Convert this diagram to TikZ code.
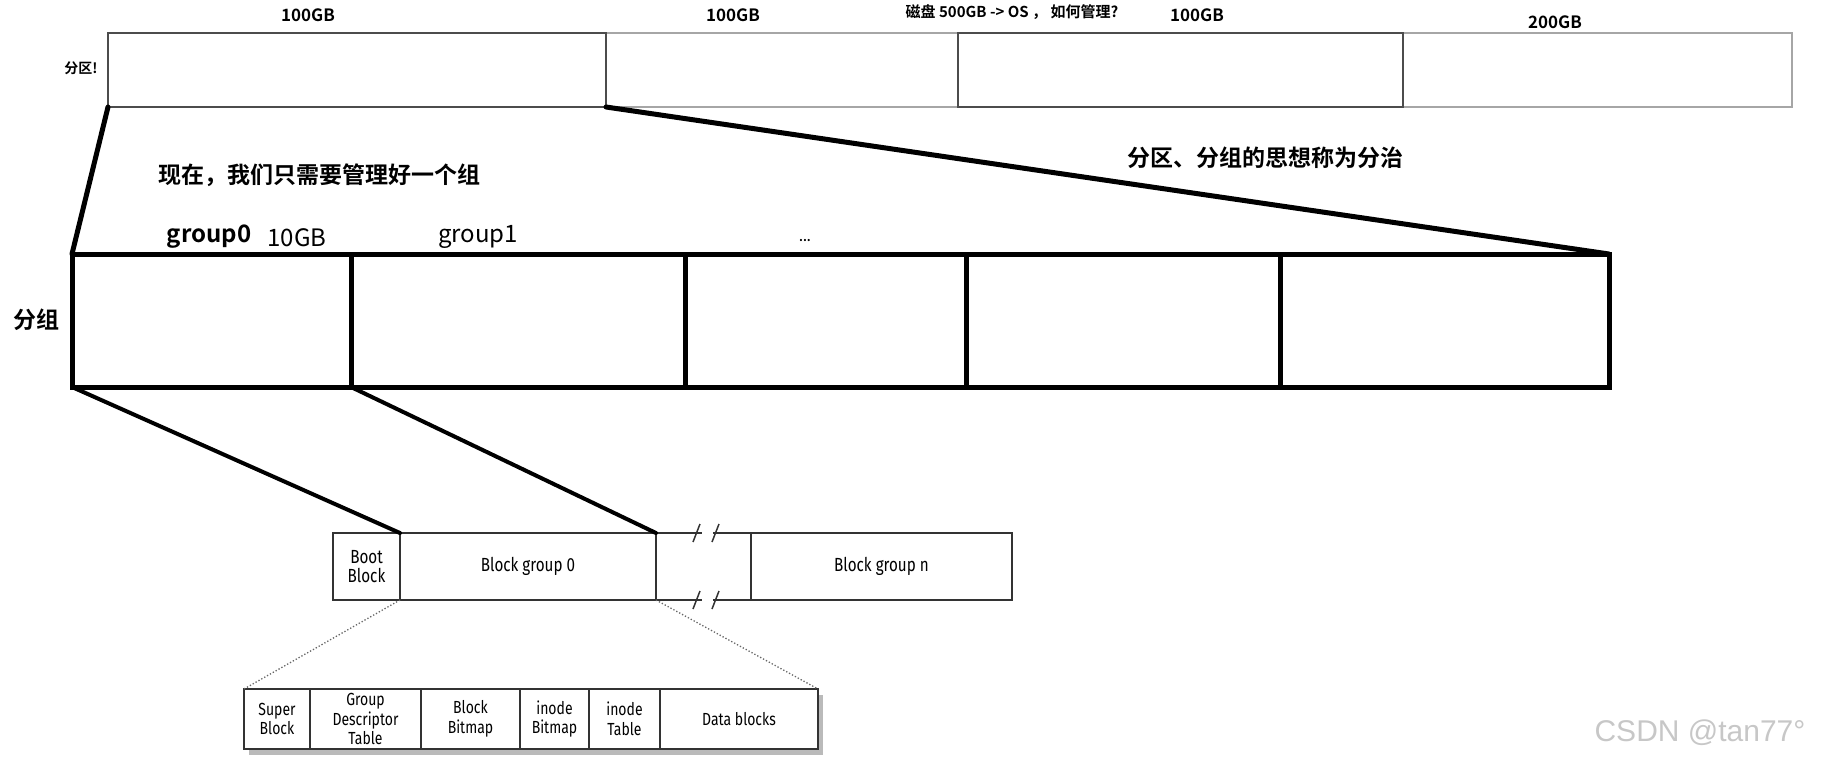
\documentclass[tikz,border=0pt]{standalone}
\usepackage{fontspec}
\setmainfont{Noto Sans CJK SC}[BoldFont={Noto Sans CJK SC Bold}]
\newfontfamily\narrowfont{Fira Sans}[FakeStretch=0.8]
\newfontfamily\markfont{Liberation Sans}
\usetikzlibrary{positioning,calc,fit,backgrounds,shadows}

\begin{document}
\begin{tikzpicture}[
  x=1pt,y=-1pt,
  pcell/.style={draw=black!70,line width=1.4pt,outer sep=0pt,inner sep=0pt,minimum height=74pt},
  pcelllight/.style={pcell,draw=black!35,line width=1.1pt},
  gcell/.style={draw,line width=5pt,outer sep=0pt,inner sep=0pt,minimum height=133pt},
  dcell/.style={draw=black!80,line width=1.5pt,outer sep=0pt,inner sep=0pt,minimum height=67pt,align=center,font=\narrowfont\fontsize{19}{19.5}\selectfont},
  scell/.style={draw=black!80,line width=1.5pt,outer sep=0pt,inner sep=0pt,minimum height=60pt,align=center,font=\narrowfont\fontsize{17.5}{19.5}\selectfont},
  sizelabel/.style={font=\bfseries\fontsize{17}{20}\selectfont,inner sep=0pt},
  biglabel/.style={font=\bfseries\fontsize{23}{27}\selectfont,inner sep=0pt},
  grouplabel/.style={font=\fontsize{24}{28}\selectfont,inner sep=0pt},
  zoomline/.style={line width=5pt,line cap=round},
  detailline/.style={dotted,black!60,line width=1.3pt},
  dline/.style={black!80,line width=1.5pt}
]
\useasboundingbox (0,0) rectangle (1821,774);

% disk split into partitions
\node[pcell,minimum width=498pt,anchor=north west] (p1) at (108,33) {};
\begin{scope}[on background layer]
\node[pcelllight,minimum width=352pt,right=0pt of p1] (p2) {};
\end{scope}
\node[pcell,minimum width=445pt,right=0pt of p2] (p3) {};
\begin{scope}[on background layer]
\node[pcelllight,minimum width=389pt,right=0pt of p3] (p4) {};
\end{scope}

\node[sizelabel] (s1) at (308,15) {100GB};
\node[sizelabel] (s2) at (733,15) {100GB};
\node[sizelabel,font=\bfseries\fontsize{15}{18}\selectfont] (disk) at (1012,12) {磁盘 500GB -> OS ， 如何管理?};
\node[sizelabel] (s3) at (1197,15) {100GB};
\node[sizelabel] (s4) at (1555,22) {200GB};
\node[sizelabel,font=\bfseries\fontsize{14}{17}\selectfont] (part) at (81,68) {分区!};

% one partition split into groups
\node[gcell,minimum width=279pt,anchor=north west] (g0) at (72,254) {};
\node[gcell,minimum width=334pt,right=0pt of g0] (g1) {};
\node[gcell,minimum width=281pt,right=0pt of g1] (g2) {};
\node[gcell,minimum width=314pt,right=0pt of g2] (g3) {};
\node[gcell,minimum width=329pt,right=0pt of g3] (g4) {};

\node[biglabel] (now) at (319,175) {现在，我们只需要管理好一个组};
\node[biglabel] (idea) at (1265,158) {分区、分组的思想称为分治};
\node[biglabel] (grp) at (36,320) {分组};
\node[grouplabel,font=\bfseries\fontsize{24}{28}\selectfont] (gl0) at (209,237) {group0};
\node[grouplabel] (gsize) at (297,238) {10GB};
\node[grouplabel] (gl1) at (478,237) {group1};
\node[grouplabel,font=\bfseries\fontsize{12}{14}\selectfont] (dots) at (805,241) {...};

\draw[zoomline] (p1.south west) -- (g0.north west);
\draw[zoomline] (p1.south east) -- (g4.north east);

% on-disk layout
\node[dcell,minimum width=67pt,anchor=north west] (boot) at (333,533) {Boot\\Block};
\node[dcell,minimum width=256pt,right=0pt of boot] (bg0) {Block group 0};
\node[dcell,draw=none,minimum width=95pt,right=0pt of bg0] (gap) {};
\node[dcell,minimum width=261pt,right=0pt of gap] (bgn) {Block group n};

\draw[dline] (bg0.north east) -- ($(gap.north)+(-1.5,0)$);
\draw[dline] ($(gap.north)+(9.5,0)$) -- (bgn.north west);
\draw[dline] (bg0.south east) -- ($(gap.south)+(-1.5,0)$);
\draw[dline] ($(gap.south)+(9.5,0)$) -- (bgn.south west);
\foreach \dx in {-10.5,8.5} {
  \draw[dline] ($(gap.north)+(\dx,9)$) -- ++(7,-18);
  \draw[dline] ($(gap.south)+(\dx,9)$) -- ++(7,-18);
}

\draw[zoomline,line width=4pt] (g0.south west) -- (bg0.north west);
\draw[zoomline,line width=4pt] (g0.south east) -- (bg0.north east);

% inside one block group
\node[scell,minimum width=66pt,anchor=north west] (sb) at (244,689) {Super\\Block};
\node[scell,minimum width=111pt,right=0pt of sb] (gd) {Group\\Descriptor\\Table};
\node[scell,minimum width=99pt,right=0pt of gd] (bb) {Block\\Bitmap};
\node[scell,minimum width=69pt,right=0pt of bb] (ib) {inode\\Bitmap};
\node[scell,minimum width=71pt,right=0pt of ib] (it) {inode\\Table};
\node[scell,minimum width=158pt,right=0pt of it] (db) {Data blocks};
\begin{scope}[on background layer]
\node[fit=(sb)(db),inner sep=0pt,fill=white,drop shadow={shadow xshift=5pt,shadow yshift=-6pt,fill=black!45,opacity=.6}] (groupbox) {};
\end{scope}

\draw[detailline] (bg0.south west) -- (sb.north west);
\draw[detailline] (bg0.south east) -- (db.north east);

\node[font=\markfont\fontsize{30}{34}\selectfont,text=black!22,inner sep=0pt] (mark) at (1700,733) {CSDN @tan77°};
\end{tikzpicture}
\end{document}
